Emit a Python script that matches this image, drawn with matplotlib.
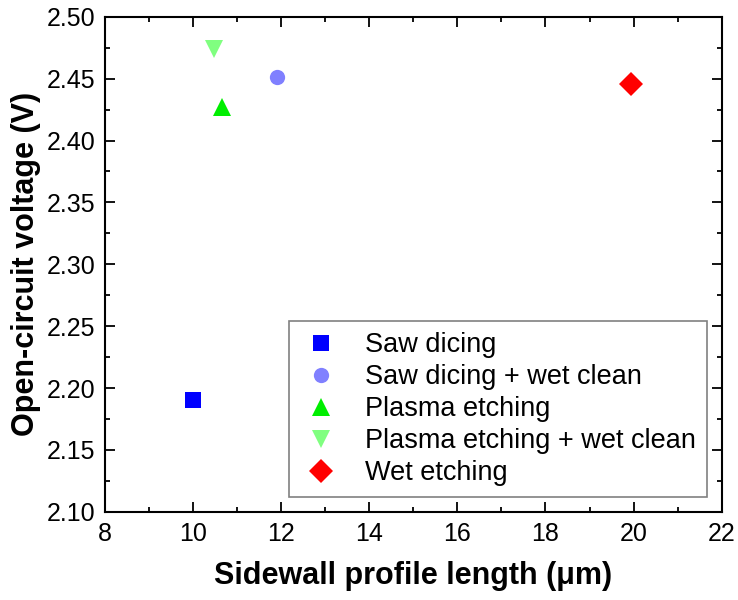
import matplotlib
matplotlib.use('Agg')
import matplotlib.pyplot as plt
from matplotlib.ticker import MultipleLocator

plt.rcParams['font.family'] = ['Liberation Sans', 'DejaVu Sans']

# data
labels = ['Saw dicing', 'Saw dicing + wet clean', 'Plasma etching',
          'Plasma etching + wet clean', 'Wet etching']
x_len = [10.0, 11.9, 10.65, 10.48, 19.95]
v_oc = [2.190, 2.451, 2.427, 2.474, 2.446]
markers = ['s', 'o', '^', 'v', 'D']
colors = ['#0000ff', '#8080ff', '#00ee00', '#80ff80', '#ff0000']
sizes = [11, 11, 13, 13, 12]

fig = plt.figure(figsize=(7.38, 6), dpi=100)
ax = fig.add_axes([0.142, 0.147, 0.836, 0.825])

for xv, yv, m, c, s, lab in zip(x_len, v_oc, markers, colors, sizes, labels):
    ax.plot(xv, yv, linestyle='none', marker=m, color=c, markersize=s,
            markeredgewidth=0, label=lab)

ax.set_xlim(8, 22)
ax.set_ylim(2.10, 2.50)
ax.xaxis.set_major_locator(MultipleLocator(2))
ax.xaxis.set_minor_locator(MultipleLocator(1))
ax.yaxis.set_major_locator(MultipleLocator(0.05))
ax.yaxis.set_minor_locator(MultipleLocator(0.025))
ax.yaxis.set_major_formatter(plt.FormatStrFormatter('%.2f'))

ax.tick_params(which='both', direction='in', top=True, right=True, width=1.3)
ax.tick_params(which='major', length=7, labelsize=18, pad=7)
ax.tick_params(which='minor', length=3.5)
for sp in ax.spines.values():
    sp.set_linewidth(1.5)

ax.set_xlabel('Sidewall profile length (\u03bcm)', fontsize=22, fontweight='bold', labelpad=11)
ax.set_ylabel('Open-circuit voltage (V)', fontsize=22, fontweight='bold', labelpad=4)

leg = ax.legend(loc='lower right', fontsize=19.5, fancybox=False, framealpha=1,
                edgecolor='#808080', borderaxespad=0.55, handletextpad=0.84,
                labelspacing=0.22, borderpad=0.4, handlelength=1.57)
leg.get_frame().set_linewidth(1.2)

fig.savefig('out.png', dpi=100)
